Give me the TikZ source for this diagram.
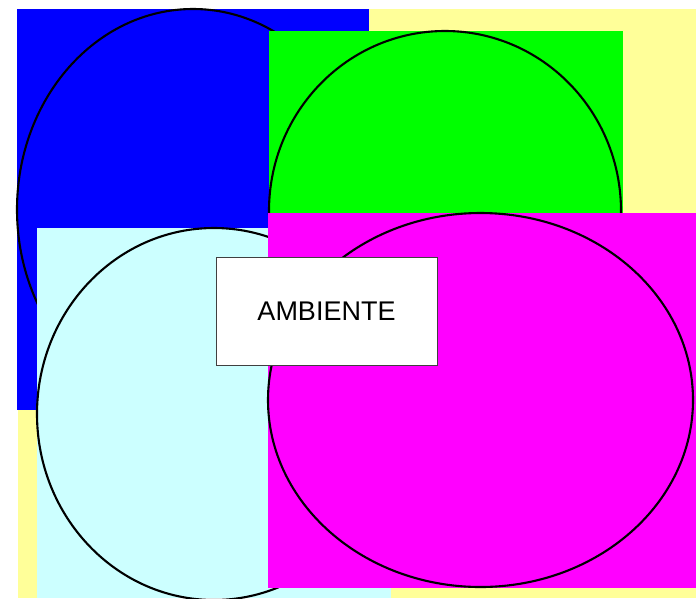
\documentclass[tikz,border=0pt]{standalone}
\usepackage{fontspec}
\setmainfont{Liberation Sans}
\definecolor{bgyellow}{HTML}{FFFF99}
\definecolor{pureblue}{HTML}{0000FF}
\definecolor{puregreen}{HTML}{00FF00}
\definecolor{lightcyan}{HTML}{CCFFFF}
\definecolor{puremagenta}{HTML}{FF00FF}
\definecolor{boxborder}{HTML}{404040}
\begin{document}
\begin{tikzpicture}[x=1pt,y=-1pt,
  ring/.style={draw=black,line width=2.1pt},
  labelbox/.style={draw=boxborder,line width=0.9pt,fill=white,minimum width=221pt,minimum height=108pt,inner sep=0pt,font=\fontsize{27}{31}\selectfont}]
\useasboundingbox (0,0) rectangle (696,598);
\fill[bgyellow] (18,9) rectangle (696,598);
\fill[pureblue] (17,9) rectangle (369,410);
\draw[ring] (193,209.5) ellipse [x radius=176, y radius=200.5];
\fill[puregreen] (269,31) rectangle (623,390);
\draw[ring] (445,211) ellipse [x radius=176, y radius=180];
\fill[lightcyan] (37,228) rectangle (391,598);
\draw[ring] (214,414) ellipse [x radius=177, y radius=186];
\fill[puremagenta] (268,213) rectangle (696,588);
\draw[ring] (480.5,400) ellipse [x radius=212.5, y radius=187];
\node[labelbox] (amb) at (326.5,311) {AMBIENTE};
\end{tikzpicture}
\end{document}
